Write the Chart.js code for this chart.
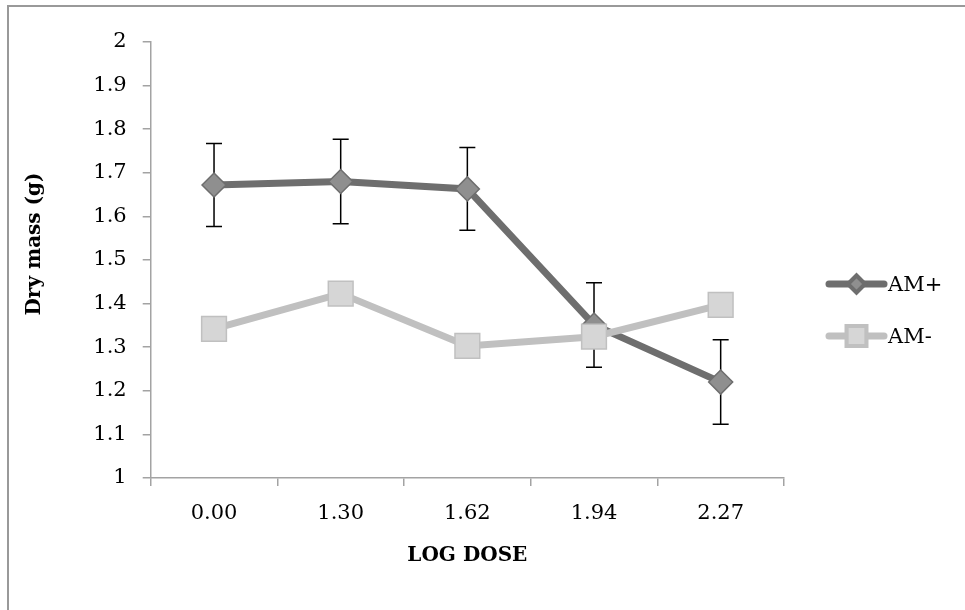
<!DOCTYPE html>
<html>
<head>
<meta charset="utf-8">
<script src="https://cdn.jsdelivr.net/npm/chart.js@4/dist/chart.umd.min.js"></script>
<style>
html,body{margin:0;padding:0;background:#fff;}
#wrap{width:965px;height:610px;position:relative;}
</style>
</head>
<body>
<div id="wrap"><canvas id="c" width="965" height="610"></canvas></div>
<script>
const categories = ['0.00', '1.30', '1.62', '1.94', '2.27'];
const amPlus = [1.672, 1.680, 1.663, 1.351, 1.220];
const amPlusErr = [0.095, 0.097, 0.095, 0.097, 0.097];
const amMinus = [1.342, 1.423, 1.303, 1.324, 1.397];
const seriesLabels = ['AM+', 'AM-'];
const yTitle = 'Dry mass (g)';
const xTitle = 'LOG DOSE';

const FONT = 'DejaVu Serif';
const darkLine = '#6e6e6e', darkFill = '#8f8f8f';
const lightLine = '#c0c0c0', lightFill = '#d6d6d6';
const axisColor = '#a3a3a3';

const framePlugin = {
  id: 'frame',
  beforeDraw(chart) {
    const ctx = chart.ctx;
    ctx.save();
    ctx.strokeStyle = '#999999';
    ctx.lineWidth = 2;
    ctx.beginPath();
    ctx.moveTo(8, 610);
    ctx.lineTo(8, 6);
    ctx.lineTo(965, 6);
    ctx.stroke();
    ctx.restore();
  },
  afterDraw(chart) {
    const ctx = chart.ctx;
    ctx.save();
    ctx.translate(35, 244);
    ctx.rotate(-Math.PI / 2);
    ctx.fillStyle = '#000';
    ctx.font = 'bold 20px "' + FONT + '"';
    ctx.textAlign = 'center';
    ctx.textBaseline = 'middle';
    ctx.fillText(yTitle, 0, 0);
    ctx.restore();
  }
};

const errorBarPlugin = {
  id: 'errbars',
  beforeDatasetsDraw(chart) {
    const ctx = chart.ctx;
    const ys = chart.scales.y;
    chart.data.datasets.forEach((ds, i) => {
      if (!ds.errors) return;
      const meta = chart.getDatasetMeta(i);
      ctx.save();
      ctx.strokeStyle = '#000';
      ctx.lineWidth = 1.5;
      meta.data.forEach((pt, j) => {
        const v = ds.data[j], e = ds.errors[j];
        const x = pt.x;
        const yt = ys.getPixelForValue(v + e);
        const yb = ys.getPixelForValue(v - e);
        ctx.beginPath();
        ctx.moveTo(x, yt); ctx.lineTo(x, yb);
        ctx.moveTo(x - 8, yt); ctx.lineTo(x + 8, yt);
        ctx.moveTo(x - 8, yb); ctx.lineTo(x + 8, yb);
        ctx.stroke();
      });
      ctx.restore();
    });
  }
};

const legendPlugin = {
  id: 'customLegend',
  afterDraw(chart) {
    const ctx = chart.ctx;
    const x0 = 826, x1 = 887;
    const rows = [284, 336];
    chart.data.datasets.forEach((ds, i) => {
      const y = rows[i];
      ctx.save();
      ctx.strokeStyle = ds.borderColor;
      ctx.lineWidth = 7;
      ctx.lineCap = 'round';
      ctx.beginPath();
      ctx.moveTo(x0 + 3, y); ctx.lineTo(x1 - 3, y);
      ctx.stroke();
      Chart.helpers.drawPoint(ctx, {
        pointStyle: ds.pointStyle,
        radius: ds.pointStyle === 'rect' ? 12 : 6.5,
        borderWidth: 1.2,
        rotation: 0
      }, (x0 + x1) / 2, y);
      ctx.fillStyle = ds.pointBackgroundColor;
      ctx.strokeStyle = ds.pointBorderColor;
      ctx.lineWidth = 1.2;
      ctx.fill();
      ctx.stroke();
      ctx.fillStyle = '#000';
      ctx.font = '21px "' + FONT + '"';
      ctx.textBaseline = 'middle';
      ctx.textAlign = 'left';
      ctx.fillText(ds.label, x1 + 1, y + 2);
      ctx.restore();
    });
  }
};

new Chart(document.getElementById('c'), {
  type: 'line',
  data: {
    labels: categories,
    datasets: [
      {
        label: seriesLabels[0],
        data: amPlus,
        errors: amPlusErr,
        borderColor: darkLine,
        borderWidth: 7,
        pointStyle: 'rectRot',
        pointRadius: 12,
        pointHoverRadius: 12,
        pointBackgroundColor: darkFill,
        pointBorderColor: darkLine,
        pointBorderWidth: 1.5,
        tension: 0,
        order: 1
      },
      {
        label: seriesLabels[1],
        data: amMinus,
        borderColor: lightLine,
        borderWidth: 7,
        pointStyle: 'rect',
        pointRadius: 17.5,
        pointHoverRadius: 17.5,
        pointBackgroundColor: lightFill,
        pointBorderColor: lightLine,
        pointBorderWidth: 1.5,
        tension: 0,
        order: 0
      }
    ]
  },
  options: {
    responsive: false,
    devicePixelRatio: 1,
    animation: false,
    layout: { padding: { left: 8, top: 42, right: 181, bottom: 0 } },
    plugins: { legend: { display: false }, tooltip: { enabled: false } },
    scales: {
      x: {
        offset: true,
        afterFit: s => { s.height = 132; },
        grid: { offset: true, drawOnChartArea: false, color: axisColor, lineWidth: 1.5, tickLength: 8 },
        border: { color: axisColor, width: 1.5 },
        ticks: { color: '#000', font: { family: FONT, size: 21 }, padding: 15, maxRotation: 0 },
        title: { display: true, text: xTitle, color: '#000', font: { family: FONT, size: 20, weight: 'bold' }, padding: { top: 0, bottom: 42 } }
      },
      y: {
        min: 1, max: 2,
        afterFit: s => { s.width = 142.7; },
        grid: { drawOnChartArea: false, color: axisColor, lineWidth: 1.5, tickLength: 8 },
        border: { color: axisColor, width: 1.5 },
        ticks: {
          stepSize: 0.1, color: '#000', font: { family: FONT, size: 21 }, padding: 16,
          callback: v => String(Math.round(v * 10) / 10)
        },
        title: { display: false }
      }
    }
  },
  plugins: [framePlugin, errorBarPlugin, legendPlugin]
});
</script>
</body>
</html>
